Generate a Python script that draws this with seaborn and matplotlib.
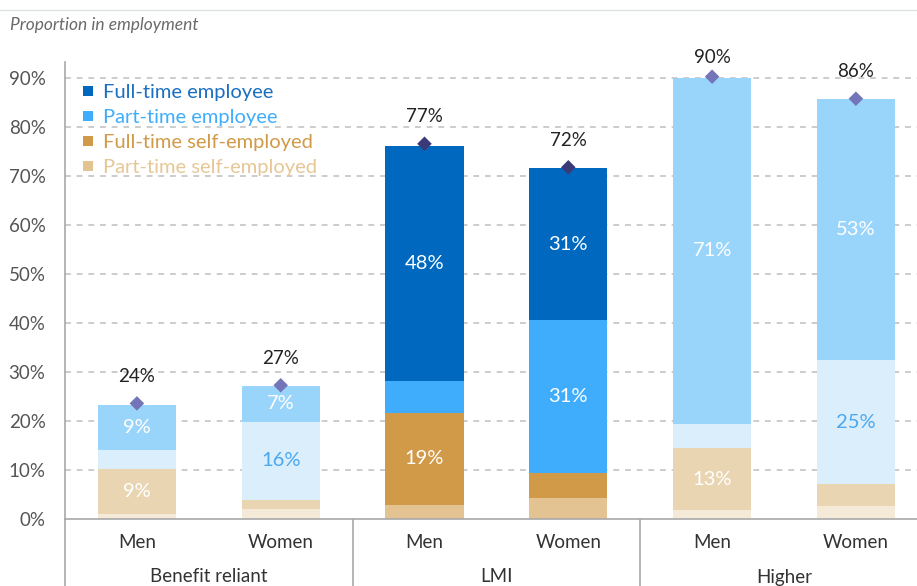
import matplotlib
matplotlib.use("Agg")
import matplotlib.pyplot as plt
import matplotlib.transforms as mtransforms
from matplotlib.lines import Line2D
import numpy as np
import pandas as pd
import seaborn as sns

# ---- data (percent of group in employment) ----
groups = ["Benefit reliant", "LMI", "Higher"]
sexes = ["Men", "Women", "Men", "Women", "Men", "Women"]
pt_self_employed = [1.0, 2.0, 2.9, 4.2, 1.8, 2.7]
ft_self_employed = [9.2, 1.9, 18.8, 5.1, 12.6, 4.4]
pt_employee = [3.9, 16.0, 6.5, 31.3, 5.0, 25.3]
ft_employee = [9.2, 7.2, 48.0, 31.0, 70.7, 53.3]
totals = [23.6, 27.3, 76.6, 71.8, 90.3, 85.8]
yticks = [0, 10, 20, 30, 40, 50, 60, 70, 80, 90]

series_names = ["Part-time self-employed", "Full-time self-employed",
                "Part-time employee", "Full-time employee"]
series_vals = [pt_self_employed, ft_self_employed, pt_employee, ft_employee]

# strong palette for the highlighted group, muted palette elsewhere
strong = ["#e3c391", "#d09a48", "#3fadfc", "#0069bf"]
muted = ["#f5e9d8", "#ead5b3", "#dbeefc", "#99d4fb"]
legend_text = ["#e6c795", "#d09a48", "#3fadfc", "#1a6fc0"]
diamond_strong = "#3b3a78"
diamond_muted = "#7474b8"

sns.set_theme(style="white")
plt.rcParams["font.family"] = ["Lato", "DejaVu Sans"]

W, H = 917, 586
fig = plt.figure(figsize=(W / 100, H / 100), dpi=100)
ax = fig.add_axes([65 / W, 1 - 519 / H, 1 - 65 / W, (519 - 62) / H])

n = len(sexes)
bar_ids = [str(i) for i in range(n)]
highlight = [i // 2 == 1 for i in range(n)]

# cumulative stacks drawn top layer first so lower layers sit on top
cum = np.cumsum(np.array(series_vals), axis=0)
for layer in range(3, -1, -1):
    df = pd.DataFrame({"bar": bar_ids, "value": cum[layer]})
    pal = {b: (strong[layer] if highlight[i] else muted[layer])
           for i, b in enumerate(bar_ids)}
    sns.barplot(data=df, x="bar", y="value", hue="bar", palette=pal,
                order=bar_ids, hue_order=bar_ids, dodge=False, legend=False,
                width=0.545, saturation=1, linewidth=0, ax=ax, zorder=2)

# segment value labels
for layer in range(4):
    for i in range(n):
        v = series_vals[layer][i]
        if v < 7:
            continue
        mid = cum[layer][i] - v / 2
        col = "white"
        if layer == 2 and not highlight[i]:
            col = "#4aa8f0"
        ax.text(i, mid, f"{round(v)}%", ha="center", va="center",
                color=col, fontsize=14.5, zorder=5)

# total markers
tdf = pd.DataFrame({"bar": list(range(n)), "total": totals,
                    "kind": ["hi" if h else "lo" for h in highlight]})
sns.scatterplot(data=tdf, x="bar", y="total", hue="kind",
                palette={"hi": diamond_strong, "lo": diamond_muted},
                marker="D", s=55, linewidth=0, legend=False, ax=ax, zorder=6)
for i, t in enumerate(totals):
    off = 10 if t > 88 else 15.5
    ax.annotate(f"{round(t)}%", (i, t), xytext=(0, off),
                textcoords="offset points", ha="center", va="baseline",
                fontsize=13.5, color="#222222", annotation_clip=False,
                zorder=7)

# axes styling
ax.set_xlim(-0.5, 5.425)
ax.set_ylim(0, 93.3)
ax.set_yticks(yticks)
ax.set_yticklabels([f"{t}%" for t in yticks], color="#555555", fontsize=13.5)
ax.tick_params(axis="y", length=0, pad=14)
for t in yticks[1:]:
    ax.axhline(t, color="#c4c4c4", lw=1.2, ls=(0, (3.5, 3.5)), zorder=0)
for s in ["top", "right"]:
    ax.spines[s].set_visible(False)
for s in ["left", "bottom"]:
    ax.spines[s].set_color("#a8a8a8")
    ax.spines[s].set_linewidth(1.2)
ax.set_xlabel("")
ax.set_ylabel("")

# two-level category axis
ax.set_xticks(range(n))
ax.set_xticklabels(sexes, fontsize=13.5, color="#333333")
ax.tick_params(axis="x", length=0, pad=11)
trans = mtransforms.blended_transform_factory(ax.transData, ax.transAxes)
below = -(586 - 519) / (519 - 62)
for g, name in enumerate(groups):
    ax.text(2 * g + 0.5, -(577 - 519) / (519 - 62), name, transform=trans,
            ha="center", va="center", fontsize=13.5, color="#333333")
for xsep in [-0.5, 1.5, 3.5]:
    ax.plot([xsep, xsep], [0, below], transform=trans, color="#a8a8a8",
            lw=1.2, clip_on=False)

# legend
handles = [Line2D([], [], marker="s", ls="none", markersize=7.5,
                  markerfacecolor=strong[k], markeredgewidth=0)
           for k in range(3, -1, -1)]
leg = ax.legend(handles, series_names[::-1], loc="upper left",
                bbox_to_anchor=(0.0, 0.982), frameon=False,
                fontsize=14.5, handletextpad=0.3, handlelength=0.9,
                labelspacing=0.38, borderaxespad=0.3,
                labelcolor=legend_text[::-1])

# header
fig.text(10 / W, 1 - 25 / H, "Proportion in employment", fontsize=12.5,
         style="italic", color="#6a6a6a", va="center", ha="left")
fig.add_artist(Line2D([0, 1], [1 - 10 / H, 1 - 10 / H], color="#dfe3e3",
                      lw=1, transform=fig.transFigure))

fig.savefig("out.png", dpi=100)
